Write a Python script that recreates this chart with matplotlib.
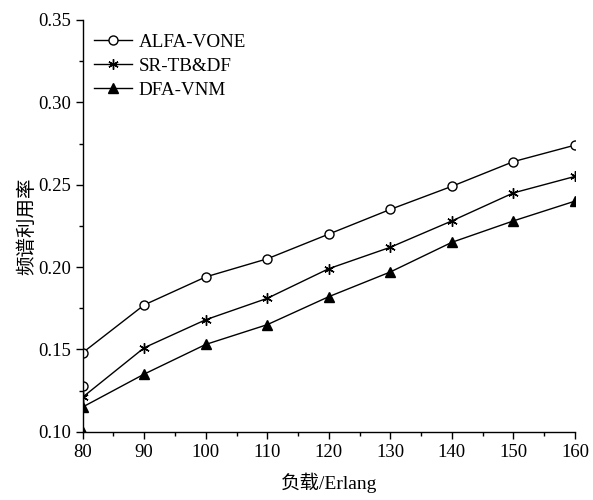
import matplotlib
matplotlib.use("Agg")
import matplotlib.pyplot as plt
from matplotlib.ticker import MultipleLocator, FormatStrFormatter

plt.rcParams['font.family'] = ['Liberation Serif', 'Noto Sans CJK SC', 'DejaVu Sans']

x_alfa = [80, 80, 90, 100, 110, 120, 130, 140, 150, 160]
y_alfa = [0.128, 0.148, 0.177, 0.194, 0.205, 0.220, 0.235, 0.249, 0.264, 0.274]
x_sr = [80, 90, 100, 110, 120, 130, 140, 150, 160]
y_sr = [0.121, 0.151, 0.168, 0.181, 0.199, 0.212, 0.228, 0.245, 0.255]
x_dfa = [80, 80, 90, 100, 110, 120, 130, 140, 150, 160]
y_dfa = [0.100, 0.115, 0.135, 0.153, 0.165, 0.182, 0.197, 0.215, 0.228, 0.240]

labels = ['ALFA-VONE', 'SR-TB&DF', 'DFA-VNM']

fig = plt.figure(figsize=(5.93, 5.0), dpi=100)
ax = fig.add_axes([0.1395, 0.1366, 0.83, 0.8234])

l1, = ax.plot(x_alfa, y_alfa, color='black', lw=1.0, marker='o', markersize=6.5,
              markerfacecolor='white', markeredgecolor='black', markeredgewidth=1.0, label=labels[0])
l2, = ax.plot(x_sr, y_sr, color='black', lw=1.0, marker=(6, 2, 0), markersize=7.5,
              markeredgewidth=1.0, label=labels[1])
l3, = ax.plot(x_dfa, y_dfa, color='black', lw=1.0, marker='^', markersize=7.5,
              markerfacecolor='black', markeredgecolor='black', label=labels[2])
for ln in (l1, l2, l3):
    ln.set_clip_path(ax.patch)

ax.set_xlim(80, 160)
ax.set_ylim(0.10, 0.35)
ax.xaxis.set_major_locator(MultipleLocator(10))
ax.xaxis.set_minor_locator(MultipleLocator(5))
ax.yaxis.set_major_locator(MultipleLocator(0.05))
ax.yaxis.set_minor_locator(MultipleLocator(0.025))
ax.yaxis.set_major_formatter(FormatStrFormatter('%.2f'))

for s in ['top', 'right']:
    ax.spines[s].set_visible(False)
for s in ['left', 'bottom']:
    ax.spines[s].set_linewidth(1.0)
    ax.spines[s].set_zorder(5)

ax.tick_params(which='major', direction='out', length=5, width=1.0, labelsize=13.5)
ax.tick_params(which='minor', direction='out', length=3, width=1.0)

ax.set_xlabel('负载/Erlang', fontsize=14, labelpad=9)
ax.set_ylabel('频谱利用率', fontsize=14, labelpad=1)

ax.legend(loc='upper left', bbox_to_anchor=(0.0, 0.995), frameon=False, fontsize=13.7,
          handlelength=2.0, handletextpad=0.35, labelspacing=0.35, borderaxespad=0.2)

fig.savefig('out.png', dpi=100)
